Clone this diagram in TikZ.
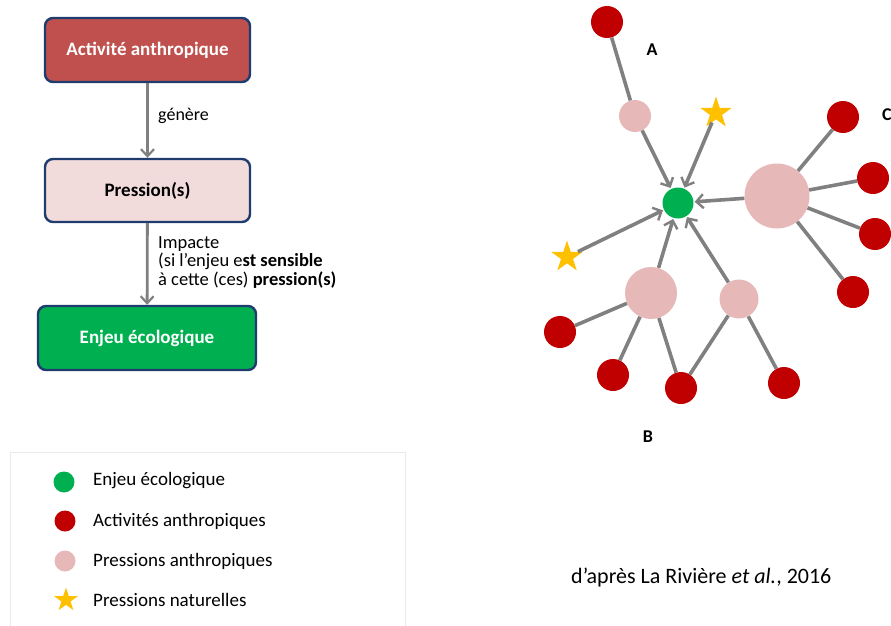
\documentclass[tikz,border=0pt]{standalone}
\usepackage{fontspec}
\setmainfont{Carlito}
\usetikzlibrary{arrows.meta,shapes.geometric}
\definecolor{boxred}{HTML}{C0504D}
\definecolor{boxpink}{HTML}{F2DCDB}
\definecolor{boxgreen}{HTML}{00B050}
\definecolor{navy}{HTML}{1F3C6E}
\definecolor{actred}{HTML}{C00000}
\definecolor{prespink}{HTML}{E6B9B8}
\definecolor{natstar}{HTML}{FFC000}
\definecolor{edgegray}{HTML}{808080}
\tikzset{
  flowbox/.style={draw=navy,line width=2.4pt,rounded corners=8pt,inner sep=0pt,font=\fontsize{19}{22}\selectfont\bfseries},
  flowarr/.style={draw=edgegray,line width=2.8pt,-{Straight Barb[length=7pt,width=13pt,line width=2.2pt]}},
  link/.style={draw=edgegray,line width=3.6pt},
  linkarr/.style={draw=edgegray,line width=3.6pt,shorten >=1pt,-{Straight Barb[length=7pt,width=14pt,line width=2.4pt]}},
  act/.style={circle,fill=actred,minimum size=32pt,inner sep=0pt},
  pres/.style={circle,fill=prespink,inner sep=0pt},
  enj/.style={circle,fill=boxgreen,minimum size=31pt,inner sep=0pt},
  nat/.style={star,star points=5,star point ratio=2.6,fill=natstar,minimum size=33pt,inner sep=0pt},
  lbl/.style={font=\fontsize{18}{21}\selectfont\bfseries},
  legtxt/.style={font=\fontsize{19}{22}\selectfont,anchor=west,inner sep=0pt}
}
\begin{document}
\begin{tikzpicture}[x=1pt,y=-1pt]
\useasboundingbox (0,0) rectangle (891,626);
% flowchart
\node[flowbox,fill=boxred,minimum width=205pt,minimum height=64pt,text=white] (b1) at (147.5,50) {Activité anthropique};
\node[flowbox,fill=boxpink,minimum width=205pt,minimum height=63pt] (b2) at (147.5,190.5) {Pression(s)};
\node[flowbox,fill=boxgreen,minimum width=218pt,minimum height=64pt,text=white] (b3) at (147,338) {Enjeu écologique};
\draw[flowarr] (b1) -- (b2);
\draw[flowarr] (b2) -- (b3);
\node[anchor=west,inner sep=0pt,font=\fontsize{18}{21}\selectfont] (t1) at (158,116) {génère};
\node[anchor=north west,inner sep=0pt,align=left,font=\fontsize{18.5}{18.5}\selectfont] (t2) at (158,236)
  {Impacte\\(si l’enjeu e\textbf{st sensible}\\à cette (ces) \textbf{pression(s)}};
% network
\node[enj] (g) at (678,203) {};
\node[act] (ra) at (607,22) {};
\node[pres,minimum size=32pt] (pa) at (635,116) {};
\node[nat] (s1) at (716,113) {};
\node[pres,minimum size=65pt] (pc) at (777,196) {};
\node[act] (rc1) at (843,117) {};
\node[act] (rc2) at (873,178) {};
\node[act] (rc3) at (875,234) {};
\node[act] (rc4) at (853,292) {};
\node[nat] (s2) at (567,257) {};
\node[pres,minimum size=52pt] (pb1) at (651,293) {};
\node[pres,minimum size=39pt] (pb2) at (739,299) {};
\node[act] (rb1) at (560,332) {};
\node[act] (rb2) at (613,375) {};
\node[act] (rb3) at (681,388) {};
\node[act] (rb4) at (784,383) {};
\draw[link] (ra) -- (pa);
\draw[link] (pc) -- (rc1);
\draw[link] (pc) -- (rc2);
\draw[link] (pc) -- (rc3);
\draw[link] (pc) -- (rc4);
\draw[link] (pb1) -- (rb1);
\draw[link] (pb1) -- (rb2);
\draw[link] (pb1) -- (rb3);
\draw[link] (pb2) -- (rb3);
\draw[link] (pb2) -- (rb4);
\draw[linkarr] (pa) -- (g);
\draw[linkarr] (s1) -- (g);
\draw[linkarr] (pc) -- (g);
\draw[linkarr] (s2) -- (g);
\draw[linkarr] (pb1) -- (g);
\draw[linkarr] (pb2) -- (g);
\node[lbl] (la) at (652,50) {A};
\node[lbl] (lb) at (648,437) {B};
\node[lbl,anchor=west,inner sep=0pt] (lc) at (882,115) {C};
% legend
\draw[draw=black!8,line width=0.6pt] (10,452) rectangle (405,640);
\node[enj,minimum size=21pt] (l1) at (64,482) {};
\node[act,minimum size=21pt] (l2) at (65,521) {};
\node[pres,minimum size=21pt] (l3) at (65,561) {};
\node[nat,minimum size=25pt] (l4) at (66,600) {};
\node[legtxt] (lt1) at (93,481) {Enjeu écologique};
\node[legtxt] (lt2) at (93,521) {Activités anthropiques};
\node[legtxt] (lt3) at (93,561) {Pressions anthropiques};
\node[legtxt] (lt4) at (93,600) {Pressions naturelles};
% caption
\node[font=\fontsize{22}{25}\selectfont,anchor=west,inner sep=0pt] (cap) at (571,578) {d’après La Rivière \textit{et al.}, 2016};
\end{tikzpicture}
\end{document}
